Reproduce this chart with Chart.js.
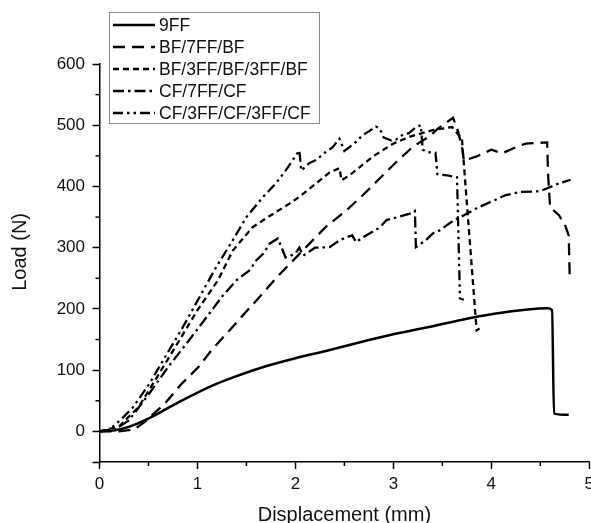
<!DOCTYPE html>
<html><head><meta charset="utf-8">
<script src="https://cdn.jsdelivr.net/npm/chart.js@4.4.1/dist/chart.umd.min.js"></script>
<style>html,body{margin:0;padding:0;background:#fff;overflow:hidden;}canvas{display:block;}</style>
</head><body>
<canvas id="c" width="599" height="523" style="width:599px;height:523px"></canvas>
<script>
// ---- data ----
const seriesLabels = ['9FF', 'BF/7FF/BF', 'BF/3FF/BF/3FF/BF', 'CF/7FF/CF', 'CF/3FF/CF/3FF/CF'];

const ff9X = [0, 0.16, 0.29, 0.46, 0.63, 0.8, 0.97, 1.14, 1.31, 1.65, 1.99, 2.33, 2.67, 3.01, 3.35, 3.69, 4.03, 4.37, 4.57, 4.62, 4.64, 4.79];
const ff9Y = [0, 2, 7, 18, 32, 47, 61, 74, 85, 104, 119, 132, 146, 159, 170, 182, 192, 199, 201, 198, 29, 27];

const bf7X = [0, 0.2, 0.35, 0.46, 0.67, 0.84, 1.01, 1.14, 1.31, 1.45, 1.62, 1.8, 2.31, 2.52, 2.69, 2.86, 3.03, 3.2, 3.38, 3.45, 3.61, 3.66, 3.7, 3.72, 3.85, 4.0, 4.11, 4.25, 4.35, 4.57, 4.58, 4.6, 4.69, 4.75, 4.79, 4.8];
const bf7Y = [0, 0, 3, 15, 46, 78, 105, 132, 162, 187, 217, 250, 334, 361, 386, 413, 440, 465, 483, 494, 512, 490, 465, 442, 449, 460, 454, 464, 470, 472, 418, 366, 353, 338, 320, 255];

const bf3X = [0, 0.2, 0.4, 0.6, 0.82, 1.0, 1.21, 1.36, 1.56, 1.7, 1.94, 2.04, 2.21, 2.35, 2.45, 2.47, 2.55, 2.8, 3.0, 3.16, 3.4, 3.6, 3.7, 3.85, 3.88];
const bf3Y = [0, 8, 40, 92, 150, 198, 247, 295, 333, 348, 372, 383, 405, 423, 430, 410, 418, 450, 470, 481, 492, 497, 478, 165, 168];

const cf7X = [0, 0.15, 0.3, 0.5, 0.7, 0.92, 1.1, 1.26, 1.4, 1.53, 1.6, 1.67, 1.74, 1.82, 1.86, 1.9, 2.0, 2.04, 2.08, 2.2, 2.35, 2.45, 2.52, 2.58, 2.62, 2.69, 2.86, 2.93, 3.0, 3.18, 3.22, 3.23, 3.33, 3.4, 3.47, 3.62, 3.72, 3.87, 4.08, 4.15, 4.3, 4.49, 4.57, 4.69, 4.81];
const cf7Y = [0, 2, 18, 60, 105, 150, 188, 222, 247, 263, 279, 290, 307, 315, 300, 284, 290, 300, 287, 300, 301, 312, 317, 320, 309, 317, 333, 345, 348, 356, 360, 301, 312, 323, 328, 345, 353, 366, 381, 386, 391, 392, 397, 405, 411];

const cf3X = [0, 0.1, 0.21, 0.34, 0.51, 0.69, 0.85, 1.02, 1.19, 1.36, 1.5, 1.67, 1.8, 1.9, 2.04, 2.06, 2.14, 2.21, 2.3, 2.38, 2.45, 2.5, 2.6, 2.69, 2.75, 2.82, 2.86, 2.9, 2.98, 3.03, 3.1, 3.16, 3.23, 3.28, 3.3, 3.35, 3.43, 3.45, 3.55, 3.65, 3.68, 3.72];
const cf3Y = [0, 3, 18, 39, 78, 127, 170, 219, 268, 312, 350, 383, 405, 426, 459, 426, 438, 443, 455, 464, 478, 458, 470, 484, 490, 498, 495, 480, 475, 477, 485, 487, 497, 500, 460, 456, 455, 420, 418, 415, 217, 215];

const xTickValues = [0, 1, 2, 3, 4, 5];
const yTickValues = [0, 100, 200, 300, 400, 500, 600];

// ---- chart ----
const FONT = 'Liberation Sans, Arial, sans-serif';
const pts = (xs, ys) => xs.map((x, i) => ({x: x, y: ys[i]}));
const styles = [
  {borderDash: [], borderWidth: 2.5},
  {borderDash: [12, 7], borderWidth: 2.3},
  {borderDash: [6, 4], borderWidth: 2.3},
  {borderDash: [11, 4, 2.5, 4], borderWidth: 2.3},
  {borderDash: [10, 4, 2.5, 4, 2.5, 4], borderWidth: 2.3}
];
const series = [[ff9X, ff9Y], [bf7X, bf7Y], [bf3X, bf3Y], [cf7X, cf7Y], [cf3X, cf3Y]];
const datasets = series.map((s, i) => ({
  label: seriesLabels[i],
  data: pts(s[0], s[1]),
  borderColor: '#000',
  backgroundColor: '#000',
  borderWidth: styles[i].borderWidth,
  borderDash: styles[i].borderDash,
  pointRadius: 0,
  fill: false,
  tension: 0,
  cubicInterpolationMode: i === 0 ? 'monotone' : 'default'
}));

const isMajorX = v => xTickValues.includes(v);
const isMajorY = v => yTickValues.includes(v) || v === -50;

const minorTicks = {
  id: 'minorTicks',
  afterDraw(chart) {
    const c = chart.ctx, xs = chart.scales.x, ys = chart.scales.y;
    c.save();
    c.strokeStyle = '#000';
    c.lineWidth = 1.5;
    for (let v = 0.5; v < 5; v += 1) {
      const p = xs.getPixelForValue(v);
      c.beginPath(); c.moveTo(p, xs.top); c.lineTo(p, xs.top + 4); c.stroke();
    }
    for (let v = 50; v < 600; v += 100) {
      const p = ys.getPixelForValue(v);
      c.beginPath(); c.moveTo(ys.right, p); c.lineTo(ys.right - 4, p); c.stroke();
    }
    c.restore();
  }
};

const boxLegend = {
  id: 'boxLegend',
  afterDraw(chart) {
    const c = chart.ctx;
    c.save();
    c.fillStyle = '#fff';
    c.fillRect(109, 12, 210, 111);
    c.strokeStyle = '#8a8a8a';
    c.lineWidth = 1;
    c.strokeRect(109.5, 12.5, 210, 111);
    chart.data.datasets.forEach((ds, i) => {
      const y = 25 + i * 22;
      c.strokeStyle = ds.borderColor;
      c.lineWidth = ds.borderWidth;
      c.setLineDash(ds.borderDash);
      c.beginPath(); c.moveTo(113, y); c.lineTo(155, y); c.stroke();
      c.setLineDash([]);
      c.fillStyle = '#111';
      c.font = '17.5px ' + FONT;
      c.textBaseline = 'middle';
      c.textAlign = 'left';
      c.fillText(ds.label, 159, y + 1);
    });
    c.restore();
  }
};

new Chart(document.getElementById('c'), {
  type: 'line',
  data: {datasets: datasets},
  plugins: [minorTicks, boxLegend],
  options: {
    responsive: false,
    animation: false,
    devicePixelRatio: 1,
    layout: {padding: {left: 0, right: 0, top: 64, bottom: 0}},
    plugins: {legend: {display: false}, tooltip: {enabled: false}},
    scales: {
      x: {
        type: 'linear', min: 0, max: 5,
        afterFit: s => { s.height = 523 - 462; },
        ticks: {stepSize: 0.5, autoSkip: false, maxRotation: 0, padding: 5, color: '#111',
          font: {family: FONT, size: 17},
          callback: v => isMajorX(v) ? String(v) : ''},
        grid: {drawOnChartArea: false, drawTicks: true, tickLength: 7, tickWidth: 1.5,
          tickColor: ctx => (ctx.tick && isMajorX(ctx.tick.value)) ? '#000' : 'rgba(0,0,0,0)'},
        border: {display: true, color: '#000', width: 1.5},
        title: {display: true, text: 'Displacement (mm)', color: '#111',
          font: {family: FONT, size: 20, lineHeight: 1}, padding: {top: 0, bottom: -2}}
      },
      y: {
        type: 'linear', min: -50, max: 600,
        afterFit: s => { s.width = 99.5; },
        ticks: {stepSize: 50, autoSkip: false, padding: 7.5, color: '#111',
          font: {family: FONT, size: 17},
          callback: v => yTickValues.includes(v) ? String(v) : ''},
        grid: {drawOnChartArea: false, drawTicks: true, tickLength: 7, tickWidth: 1.5,
          tickColor: ctx => (ctx.tick && isMajorY(ctx.tick.value)) ? '#000' : 'rgba(0,0,0,0)'},
        border: {display: true, color: '#000', width: 1.5},
        title: {display: true, text: '    Load (N)', color: '#111',
          font: {family: FONT, size: 20, lineHeight: 1}, padding: {top: 10, bottom: 0}}
      }
    }
  }
});
</script>
</body></html>
